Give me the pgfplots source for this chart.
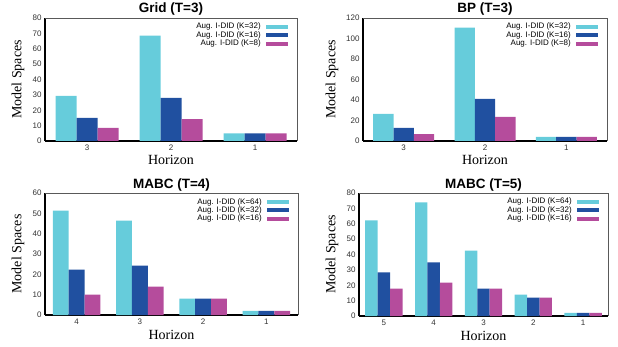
\documentclass[border=0pt]{standalone}
\usepackage{pgfplots}
\pgfplotsset{compat=1.18}
\usepackage{fontspec}
\setmainfont{Liberation Sans}
\newfontfamily\seriffont{Liberation Serif}
\definecolor{cA}{HTML}{66CCDB}
\definecolor{cB}{HTML}{2050A0}
\definecolor{cC}{HTML}{B54C9C}
\pgfplotsset{
  panel/.style={
    scale only axis,
    anchor=south west,
    ybar=0pt,
    bar width=0.25,
    ymin=0,
    xmin=-0.5,
    axis x line*=bottom,
    axis y line*=left,
    axis line style={black, line width=1.1pt},
    after end axis/.code={\draw[gray!70!black, line width=0.6pt] (rel axis cs:0,1) -- (rel axis cs:1,1) -- (rel axis cs:1,0);},
    major tick length=0pt,
    xtick=data,
    /pgf/number format/assume math mode=true,
    tick label style={font=\fontsize{8}{8.5}\selectfont, text=black!80},
    xlabel={Horizon},
    ylabel={Model Spaces},
    xlabel style={font=\seriffont\fontsize{14}{15}\selectfont, at={(axis description cs:0.5,0)}, anchor=base, yshift=-24pt},
    title style={font=\bfseries\fontsize{13.5}{15}\selectfont, at={(axis description cs:0.5,1)}, anchor=base, yshift=-1pt},
    legend style={at={(1,1)}, anchor=north east, xshift=-8pt, yshift=-2pt, draw=none, fill=none,
      font=\fontsize{8}{8}\selectfont, row sep=-2.8pt, inner sep=1pt,
      /tikz/every odd column/.append style={column sep=3pt}},
    legend cell align=right,
    legend plot pos=right,
    legend image code/.code={\fill[##1, draw=none] (0pt,-2pt) rectangle (22pt,2pt);},
  }
}
\begin{document}
\begin{tikzpicture}
\useasboundingbox (0pt,0pt) rectangle (618pt,-347pt);

% Grid (T=3)
\begin{axis}[panel, at={(45pt,-141pt)}, width=252pt, height=123pt,
  title={Grid (T=3)}, xmax=2.5, ymax=80, ytick={0,10,...,80},
  xticklabels={3,2,1},
  ylabel style={font=\seriffont\fontsize{14}{15}\selectfont, at={(axis description cs:-0.107,0.5)}, anchor=center}]
\addplot[fill=cA, draw=none] coordinates {(0,29.4) (1,68.5) (2,5)};
\addplot[fill=cB, draw=none] coordinates {(0,15) (1,28) (2,5)};
\addplot[fill=cC, draw=none] coordinates {(0,8.5) (1,14.3) (2,5)};
\legend{Aug. I-DID (K=32), Aug. I-DID (K=16), Aug. I-DID (K=8)}
\end{axis}

% BP (T=3)
\begin{axis}[panel, at={(363pt,-141pt)}, width=244pt, height=123pt,
  title={BP (T=3)}, xmax=2.5, ymax=120, ytick={0,20,...,120},
  xticklabels={3,2,1},
  ylabel style={font=\seriffont\fontsize{14}{15}\selectfont, at={(axis description cs:-0.127,0.5)}, anchor=center}]
\addplot[fill=cA, draw=none] coordinates {(0,26.4) (1,110.5) (2,4)};
\addplot[fill=cB, draw=none] coordinates {(0,12.7) (1,41) (2,4)};
\addplot[fill=cC, draw=none] coordinates {(0,6.8) (1,23.5) (2,4)};
\legend{Aug. I-DID (K=32), Aug. I-DID (K=16), Aug. I-DID (K=8)}
\end{axis}

% MABC (T=4)
\begin{axis}[panel, at={(45pt,-315pt)}, width=253pt, height=122pt,
  title={MABC (T=4)}, xmax=3.5, ymax=60, ytick={0,10,...,60},
  xticklabels={4,3,2,1},
  ylabel style={font=\seriffont\fontsize{14}{15}\selectfont, at={(axis description cs:-0.107,0.5)}, anchor=center}]
\addplot[fill=cA, draw=none] coordinates {(0,51.3) (1,46.4) (2,8) (3,2)};
\addplot[fill=cB, draw=none] coordinates {(0,22.3) (1,24.3) (2,8) (3,2)};
\addplot[fill=cC, draw=none] coordinates {(0,10) (1,13.9) (2,8) (3,2)};
\legend{Aug. I-DID (K=64), Aug. I-DID (K=32), Aug. I-DID (K=16)}
\end{axis}

% MABC (T=5)
\begin{axis}[panel, at={(359pt,-316pt)}, width=249pt, height=123pt,
  title={MABC (T=5)}, xmax=4.5, ymax=80, ytick={0,10,...,80},
  xticklabels={5,4,3,2,1},
  ylabel style={font=\seriffont\fontsize{14}{15}\selectfont, at={(axis description cs:-0.108,0.5)}, anchor=center}]
\addplot[fill=cA, draw=none] coordinates {(0,62.2) (1,73.9) (2,42.6) (3,13.9) (4,2)};
\addplot[fill=cB, draw=none] coordinates {(0,28.3) (1,34.8) (2,17.8) (3,12) (4,2)};
\addplot[fill=cC, draw=none] coordinates {(0,17.8) (1,21.7) (2,17.8) (3,12) (4,2)};
\legend{Aug. I-DID (K=64), Aug. I-DID (K=32), Aug. I-DID (K=16)}
\end{axis}
\end{tikzpicture}
\end{document}
